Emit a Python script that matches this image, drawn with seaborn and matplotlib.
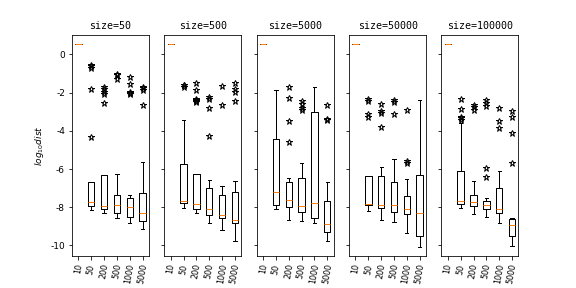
import numpy as np
import pandas as pd
import matplotlib
matplotlib.use("Agg")
import matplotlib.pyplot as plt
import seaborn as sns

sizes = [50, 500, 5000, 50000, 100000]
categories = ["10", "50", "200", "500", "1000", "5000"]

# box statistics (rows: sizes, columns: categories)
q1 = [
    [0.57, -7.92, -8.08, -8.30, -8.51, -8.73],
    [0.57, -7.78, -8.08, -8.41, -8.57, -8.84],
    [0.57, -7.87, -7.97, -8.24, -8.57, -9.32],
    [0.57, -7.87, -8.03, -8.24, -8.35, -9.53],
    [0.57, -7.81, -7.92, -8.08, -8.30, -9.53],
]
median = [
    [0.57, -7.71, -7.92, -7.87, -7.97, -8.30],
    [0.57, -7.67, -7.81, -8.08, -8.41, -8.69],
    [0.57, -7.22, -7.60, -7.92, -7.76, -8.89],
    [0.57, -7.81, -7.87, -7.87, -8.08, -8.30],
    [0.57, -7.65, -7.71, -7.87, -8.08, -8.94],
]
q3 = [
    [0.57, -6.70, -6.31, -7.35, -7.54, -7.28],
    [0.57, -5.72, -6.25, -7.01, -7.38, -7.19],
    [0.57, -4.43, -6.68, -6.45, -3.03, -7.65],
    [0.57, -6.36, -6.36, -6.68, -7.42, -6.31],
    [0.57, -6.09, -7.38, -7.65, -7.01, -8.62],
]
whisker_low = [
    [0.57, -8.12, -8.30, -8.55, -8.84, -9.16],
    [0.57, -8.03, -8.30, -8.84, -9.21, -9.75],
    [0.57, -8.08, -8.67, -8.73, -8.84, -9.75],
    [0.57, -8.19, -8.67, -8.78, -9.37, -10.07],
    [0.57, -8.03, -8.35, -8.51, -8.84, -10.02],
]
whisker_high = [
    [0.57, -6.70, -6.31, -6.25, -7.38, -5.61],
    [0.57, -3.41, -6.25, -6.59, -6.90, -6.65],
    [0.57, -1.85, -6.45, -5.66, -1.70, -6.68],
    [0.57, -6.36, -5.88, -5.48, -6.51, -2.38],
    [0.57, -3.60, -6.63, -7.54, -6.09, -8.57],
]
outliers = [
    [[], [-0.55, -0.62, -0.72, -1.83, -4.34], [-1.68, -1.82, -1.95, -2.06, -2.56],
     [-1.00, -1.09, -1.29], [-1.16, -1.56, -1.95, -2.02, -2.08], [-1.68, -1.78, -1.85, -2.65]],
    [[], [-1.58, -1.62, -1.68], [-1.49, -1.84, -2.33, -2.38, -2.43, -2.50],
     [-2.24, -2.33, -2.80, -4.25], [-1.65, -2.67], [-1.52, -1.79, -1.97, -2.46]],
    [[], [], [-1.70, -2.28, -3.48, -4.57],
     [-2.42, -2.60, -2.78, -2.92], [], [-2.65, -3.37, -3.42]],
    [[], [-2.33, -2.44, -3.14, -3.28], [-2.58, -2.97, -3.06, -3.80],
     [-2.40, -2.47, -3.12], [-2.90, -5.57, -5.68], []],
    [[], [-2.35, -2.85, -3.25, -3.33, -3.42], [-2.65, -2.74, -2.89],
     [-2.40, -2.53, -2.71, -5.95, -6.43], [-2.83, -3.51, -3.83], [-2.97, -3.30, -4.10, -5.70]],
]


def sample_for(a, m, b, lo, hi, fl):
    """A sample whose quartiles, whisker ends and outliers equal the read statistics."""
    low = sorted(f for f in fl if f < a)
    high = sorted(f for f in fl if f > b)
    k = max(len(low), len(high)) + 1
    below = low + [lo] + [a] * (k - len(low) - 1)
    above = [b] * (k - len(high) - 1) + [hi] + high
    return below + [a] + [m] * (2 * k - 1) + [b] + above


rows = []
for i, s in enumerate(sizes):
    for j, c in enumerate(categories):
        vals = sample_for(q1[i][j], median[i][j], q3[i][j],
                          whisker_low[i][j], whisker_high[i][j], outliers[i][j])
        for v in vals:
            rows.append({"size": s, "n": c, "value": v})
df = pd.DataFrame(rows)

plt.rcParams["axes.unicode_minus"] = False
fig, axes = plt.subplots(1, 5, sharey=True, figsize=(8, 4), dpi=72)

for ax, s in zip(axes, sizes):
    sub = df[df["size"] == s]
    sns.boxplot(data=sub, x="n", y="value", order=categories, ax=ax,
                fill=False, width=0.5, linewidth=1, linecolor="black",
                whis=1.5,
                boxprops={"color": "black"},
                whiskerprops={"color": "black"},
                capprops={"color": "black"},
                medianprops={"color": "#ff7f0e", "linewidth": 1},
                flierprops={"marker": "*", "markerfacecolor": "none",
                            "markeredgecolor": "black", "markersize": 6.5})
    ax.set_title(f"size={s}", family="DejaVu Sans Mono", fontsize=10)
    ax.set_xlabel("")
    ax.set_ylabel("")
    ax.tick_params(axis="x", labelrotation=80, labelsize=8)
    ax.tick_params(axis="y", labelsize=9)
    ax.set_xlim(-0.5, 5.5)

axes[0].set_ylim(-10.57, 1.04)
axes[0].set_yticks([0, -2, -4, -6, -8, -10])
axes[0].set_ylabel("$log_{10}dist$", fontsize=9)

fig.savefig("out.png", dpi=72)
